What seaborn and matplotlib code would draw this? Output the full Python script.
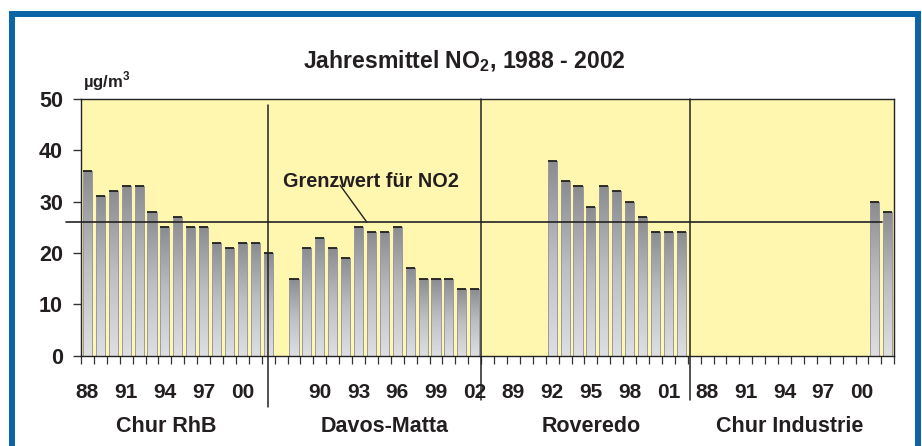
import matplotlib
matplotlib.use('Agg')
import matplotlib.pyplot as plt
import numpy as np
import pandas as pd
import seaborn as sns
from matplotlib.colors import LinearSegmentedColormap
from matplotlib.patches import Rectangle

# data
years = list(range(1988, 2003))
stations = ['Chur RhB', 'Davos-Matta', 'Roveredo', 'Chur Industrie']
chur_rhb = [36, 31, 32, 33, 33, 28, 25, 27, 25, 25, 22, 21, 22, 22, 20]
davos_matta = [15, 21, 23, 21, 19, 25, 24, 24, 25, 17, 15, 15, 15, 13, 13]
roveredo = [None, None, None, None, 38, 34, 33, 29, 33, 32, 30, 27, 24, 24, 24]
chur_industrie = [None] * 13 + [30, 28]
grenzwert = 26
title = 'Jahresmittel NO$_\\mathregular{2}$, 1988 - 2002'
unit = 'µg/m$^\\mathregular{3}$'
grenz_label = 'Grenzwert für NO2'

# layout (pixels of the 922x446 picture / data units)
W, H = 922, 446
yellow = '#fff7b0'
blue = '#0a64a6'
ink = '#231f20'
group_label_x = [6.1, 23.0, 39.0, 54.4]
divider_x = [14.0, 30.5, 46.7]

sns.set_theme(style='white')
plt.rcParams['font.family'] = ['Liberation Sans', 'DejaVu Sans']
plt.rcParams['font.weight'] = 'bold'
plt.rcParams['text.color'] = ink
plt.rcParams['xtick.color'] = '#333333'
plt.rcParams['ytick.color'] = '#333333'
plt.rcParams['xtick.labelcolor'] = ink
plt.rcParams['ytick.labelcolor'] = ink

# one long category axis with an empty slot between stations
station_values = [chur_rhb, davos_matta, roveredo, chur_industrie]
rows, order = [], []
for i, (name, vals) in enumerate(zip(stations, station_values)):
    if i > 0:
        order.append(f'gap{i}')
    for yr, v in zip(years, vals):
        cat = f'{name} {yr}'
        order.append(cat)
        if v is not None:
            rows.append({'cat': cat, 'station': name, 'year': yr, 'no2': v})
df = pd.DataFrame(rows)

fig = plt.figure(figsize=(W / 100, H / 100), dpi=100)
fig.patch.set_facecolor('white')
ax = fig.add_axes([81 / W, 1 - 355.5 / H, (894.3 - 81) / W, (355.5 - 99) / H])
ax.set_facecolor(yellow)

sns.barplot(data=df, x='cat', y='no2', order=order, width=0.7,
            color='#aaaaaa', errorbar=None, ax=ax, zorder=2)

# vertical grey gradient inside every bar
cmap = LinearSegmentedColormap.from_list('bar', ['#dedfe2', '#bebfc3', '#8b8c90'])
grad = np.linspace(0, 1, 256).reshape(-1, 1)
for p in list(ax.patches):
    x0, w, h = p.get_x(), p.get_width(), p.get_height()
    im = ax.imshow(grad, extent=[x0, x0 + w, 0, h], origin='lower', cmap=cmap,
                   aspect='auto', zorder=2.1, interpolation='bilinear')
    im.set_clip_path(p)
    p.set_facecolor('none')
    p.set_edgecolor('#9a9b9e')
    p.set_linewidth(0.7)
    p.set_zorder(2.2)
    ax.plot([x0, x0 + w], [h, h], color='#1e1e1e', lw=1.3, zorder=2.3,
            solid_capstyle='butt')

ax.set_xlim(-0.5, len(order) - 0.5)
ax.set_ylim(0, 50)
ax.set_xlabel('')
ax.set_ylabel('')

# ticks between categories, year labels on every third slot
ax.set_xticks(np.arange(-0.5, len(order), 1))
ax.set_xticklabels([])
label_idx = [i for i in range(0, len(order), 3) if not order[i].startswith('gap')]
ax.set_xticks(label_idx, minor=True)
ax.set_xticklabels([order[i][-2:] for i in label_idx], minor=True)
ax.tick_params(axis='x', which='major', direction='out', length=5.8, width=0.9,
               bottom=True)
ax.tick_params(axis='x', which='minor', length=0, pad=20, labelsize=15)
ax.set_yticks(range(0, 51, 10))
ax.tick_params(axis='y', direction='out', length=6, width=1, pad=7,
               labelsize=15.5, left=True)

for s in ax.spines.values():
    s.set_visible(True)
    s.set_color('#222222')
    s.set_linewidth(1.0)

# limit line and its label
ax.plot([-1.66, 61.57], [grenzwert, grenzwert], color='#222222', lw=1.2,
        clip_on=False, zorder=3)
ax.text(21.96, 33.9, grenz_label, ha='center', va='center', fontsize=14.3,
        zorder=4)
ax.plot([19.57, 21.64], [33.2, grenzwert], color='#222222', lw=1.0, zorder=4)

# station separators
for k, xd in enumerate(divider_x):
    top = 48.8 if k == 0 else 50
    bottom = -10.0 if k == 0 else -8.7
    ax.plot([xd, xd], [bottom, top], color='#222222', lw=1.1, clip_on=False,
            zorder=3)

# station names
for name, xg in zip(stations, group_label_x):
    ax.text(xg, -0.275, name, transform=ax.get_xaxis_transform(), ha='center',
            va='center', fontsize=15.5)

fig.text(464 / W, 1 - 68 / H, title, ha='center', va='baseline', fontsize=16.6)
fig.text(83 / W, 1 - 87.5 / H, unit, ha='left', va='baseline', fontsize=12)

# blue frame around the chart
fig.add_artist(Rectangle((12 / W, -0.1), (918 - 12) / W, 1.1 - 14 / H,
                         transform=fig.transFigure, fill=False,
                         edgecolor=blue, lw=4.3, clip_on=False))

fig.savefig('out.png', dpi=100)
